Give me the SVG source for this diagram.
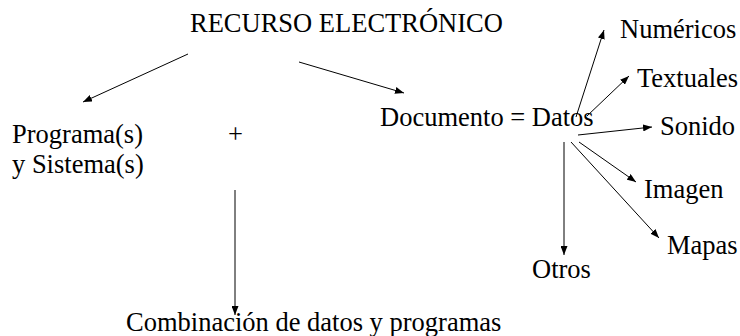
<svg xmlns="http://www.w3.org/2000/svg" width="740" height="336" viewBox="0 0 740 336">
<style>
text{font-family:"Liberation Serif","Times New Roman",serif;font-size:26.5px;fill:#000}
.c line{stroke:#000;stroke-width:1;marker-end:url(#ah)}
</style>
<defs>
<marker id="ah" markerUnits="userSpaceOnUse" markerWidth="9" markerHeight="7" refX="9" refY="3.5" orient="auto">
<path d="M0,0 L9,3.5 L0,7 z" fill="#000"/>
</marker>
</defs>
<rect width="740" height="336" fill="#fff"/>
<g id="recurso"><text x="190" y="32">RECURSO ELECTRÓNICO</text></g>
<g id="programas"><text x="12" y="143">Programa(s)</text><text x="12" y="173">y Sistema(s)</text></g>
<g id="plus"><text x="228" y="143">+</text></g>
<g id="documento"><text x="380" y="126">Documento = Datos</text></g>
<g id="numericos"><text x="620" y="38">Numéricos</text></g>
<g id="textuales"><text x="637" y="87">Textuales</text></g>
<g id="sonido"><text x="660" y="135">Sonido</text></g>
<g id="imagen"><text x="644" y="198">Imagen</text></g>
<g id="mapas"><text x="667" y="254">Mapas</text></g>
<g id="otros"><text x="532" y="278">Otros</text></g>
<g id="combinacion"><text x="126" y="331">Combinación de datos y programas</text></g>
<g id="connectors" class="c">
<line x1="188" y1="54" x2="83" y2="102"/>
<line x1="299" y1="62" x2="404" y2="93"/>
<line x1="576" y1="117" x2="604" y2="30"/>
<line x1="587" y1="116" x2="629" y2="76"/>
<line x1="578" y1="135" x2="652" y2="127"/>
<line x1="579" y1="142" x2="636" y2="182"/>
<line x1="571" y1="142" x2="659" y2="238"/>
<line x1="564" y1="142" x2="564" y2="255"/>
<line x1="235" y1="190" x2="235" y2="315"/>
</g>
</svg>
